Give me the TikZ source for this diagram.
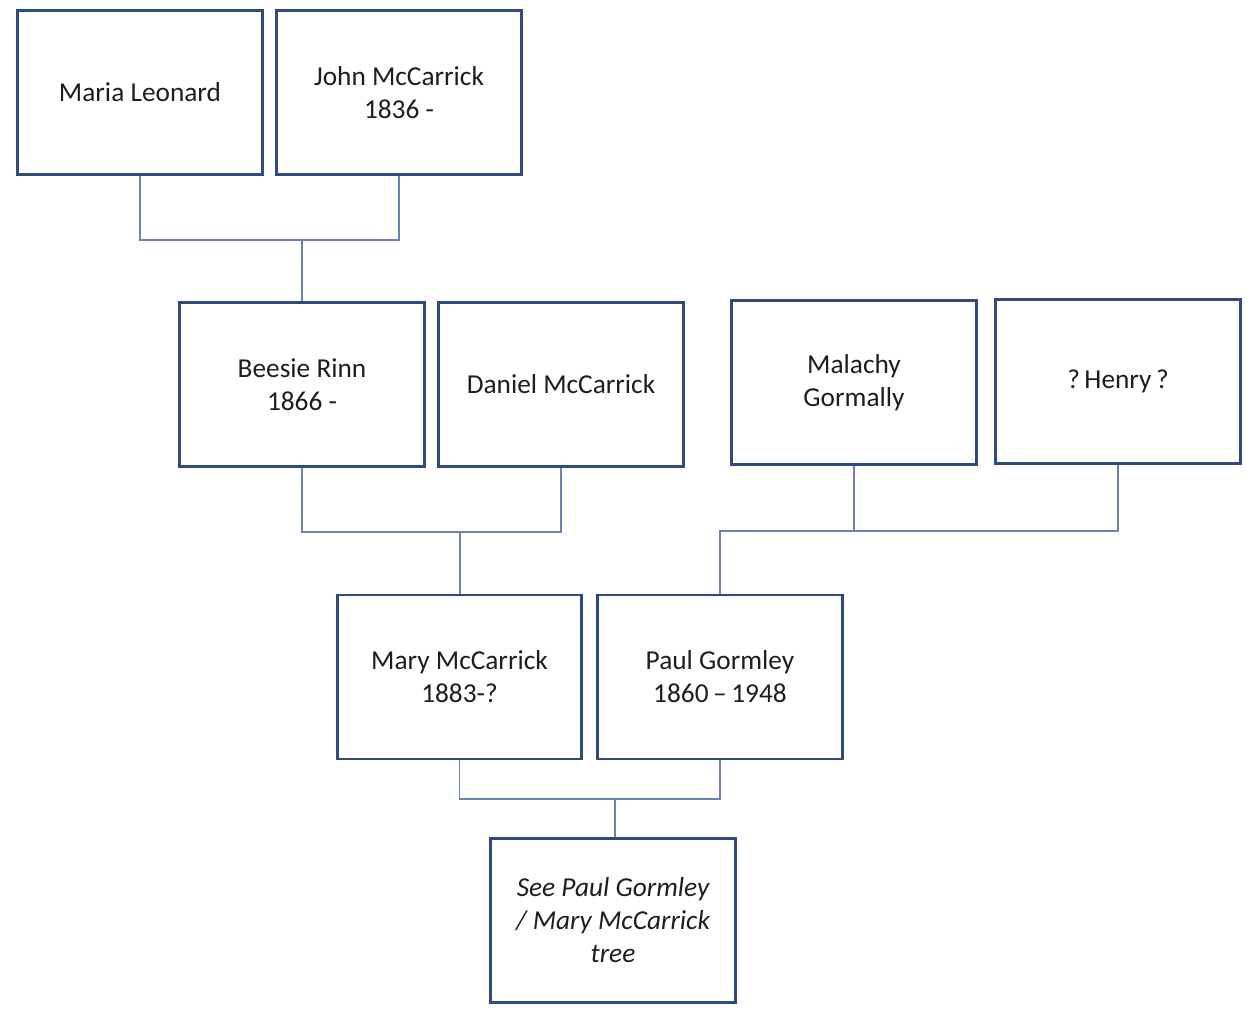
\documentclass[tikz,border=0pt]{standalone}
\usepackage{fontspec}
\setmainfont{Carlito}
\definecolor{boxline}{HTML}{2F4A7C}
\definecolor{conn}{HTML}{6F82B6}
\definecolor{txt}{HTML}{1E1E1E}
\begin{document}
\begin{tikzpicture}[x=0.75pt,y=-0.75pt,
  person/.style={draw=boxline, line width=2.2pt, fill=white, rectangle,
    minimum width=183.5pt, minimum height=123pt, inner sep=0pt,
    align=center, text=txt, font=\fontsize{20.5}{24.8}\selectfont},
  link/.style={draw=conn, line width=1.1pt}]
\useasboundingbox (0,0) rectangle (1255,1012);
\node[person] (maria) at (140,92.5) {Maria Leonard};
\node[person] (john) at (399,92.5) {John McCarrick\\1836 -};
\node[person] (beesie) at (302,384.5) {Beesie Rinn\\1866 -};
\node[person] (daniel) at (561,384.5) {Daniel McCarrick};
\node[person] (malachy) at (854,382.5) {Malachy\\Gormally};
\node[person] (henry) at (1118,381.5) {?\,Henry\,?};
\node[person] (mary) at (459.5,677) {Mary McCarrick\\1883-?};
\node[person] (paul) at (720,677) {Paul Gormley\\1860\,--\,1948};
\node[person] (see) at (613,920.5) {\itshape See Paul Gormley\\\itshape / Mary McCarrick\\\itshape tree};
\coordinate (j1) at (302,240);
\coordinate (j2) at (460,532);
\coordinate (j3) at (855,531);
\coordinate (j4) at (615,799);
\draw[link] (maria.south) |- (j1) -| (john.south);
\draw[link] (j1) -- (j1 |- beesie.north);
\draw[link] (beesie.south) |- (j2) -| (daniel.south);
\draw[link] (j2) -- (j2 |- mary.north);
\draw[link] (malachy.south) |- (henry.south |- j3) -- (henry.south);
\draw[link] (malachy.south |- j3) -| (paul.north);
\draw[link] (mary.south) |- (j4) -| (paul.south);
\draw[link] (j4) -- (j4 |- see.north);
\end{tikzpicture}
\end{document}
